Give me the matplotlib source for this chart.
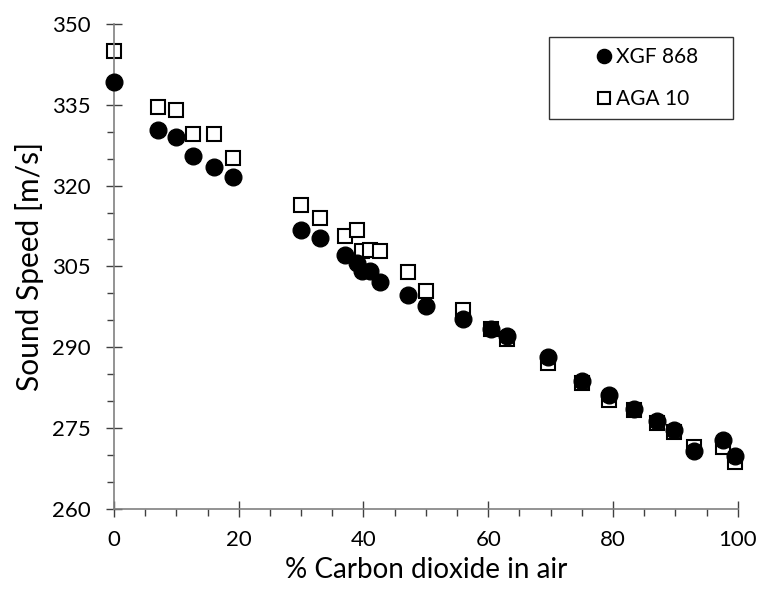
import matplotlib
matplotlib.use("Agg")
import numpy as np
from matplotlib import pyplot as plt
from matplotlib.ticker import MultipleLocator, FixedLocator

# % CO2 in air and measured / calculated sound speed
co2_xgf = [0, 7, 10, 12.6, 16.1, 19, 30, 33, 37, 39, 39.8, 41.1, 42.6, 47.1, 50,
           56, 60.4, 63, 69.6, 75.1, 79.4, 83.3, 87, 89.8, 93, 97.6, 99.5]
speed_xgf = [339.3, 330.3, 329.1, 325.5, 323.4, 321.5, 311.8, 310.2, 307.1, 305.7, 304.2, 304.2,
             302.1, 299.7, 297.6, 295.2, 293.3, 292.1, 288.1, 283.8, 281.1, 278.6, 276.3,
             274.6, 270.8, 272.8, 269.7]

co2_aga = [0, 7, 10, 12.6, 16.1, 19, 30, 33, 37, 39, 39.8, 41.1, 42.6, 47.1, 50,
           56, 60.4, 63, 69.6, 75.1, 79.4, 83.3, 87, 89.8, 93, 97.6, 99.5]
speed_aga = [345.0, 334.5, 334.0, 329.5, 329.5, 325.1, 316.4, 313.9, 310.6, 311.8, 307.9, 308.0,
             307.9, 304.0, 300.5, 296.9, 293.3, 291.6, 287.0, 283.4, 280.2, 278.3, 275.9,
             274.3, 271.5, 271.5, 268.7]

y_ticks = np.arange(260, 351, 15)

plt.rcParams['font.family'] = ['Lato', 'DejaVu Sans']

fig = plt.figure(figsize=(7.58, 5.90), dpi=100)
ax = fig.add_axes([0.1504, 0.1378, 0.8228, 0.8215])

sq, = ax.plot(co2_aga, speed_aga, 's', ms=10.5, mfc='white', mec='black', mew=1.5,
              label='AGA 10', zorder=2, clip_on=False)
ci, = ax.plot(co2_xgf, speed_xgf, 'o', ms=12, mfc='black', mec='black',
              label='XGF 868', zorder=3, clip_on=False)

ax.set_xlim(0, 100)
ax.set_ylim(260, 350)
ax.xaxis.set_major_locator(MultipleLocator(20))
ax.xaxis.set_minor_locator(MultipleLocator(5))
ax.yaxis.set_major_locator(FixedLocator(y_ticks))
ax.yaxis.set_minor_locator(MultipleLocator(5))

for s in ['top', 'right']:
    ax.spines[s].set_visible(False)
for s in ['left', 'bottom']:
    ax.spines[s].set_color('#808080')
    ax.spines[s].set_linewidth(1.2)

ax.tick_params(which='major', direction='inout', length=11, width=1.0, color='#404040',
               labelsize=16)
ax.tick_params(axis='x', which='major', pad=10)
ax.tick_params(axis='y', which='major', pad=11)
ax.tick_params(which='minor', direction='out', length=5, width=1.0, color='#404040')

ax.set_xlabel('% Carbon dioxide in air', fontsize=20, labelpad=5)
ax.set_ylabel('Sound Speed [m/s]', fontsize=21.5, labelpad=6)

# legend box placed like the original (axes coords)
leg = ax.legend(handles=[ci, sq], loc='upper left', bbox_to_anchor=(0.6975, 0.5, 0.2955, 0.4738),
                mode='expand', borderaxespad=0, fancybox=False, edgecolor='black', fontsize=15,
                handlelength=4.3, handletextpad=-1.6, labelspacing=1.05, borderpad=0.5,
                markerscale=0.85)
leg.get_frame().set_linewidth(1.0)

fig.savefig('out.png', dpi=100)
